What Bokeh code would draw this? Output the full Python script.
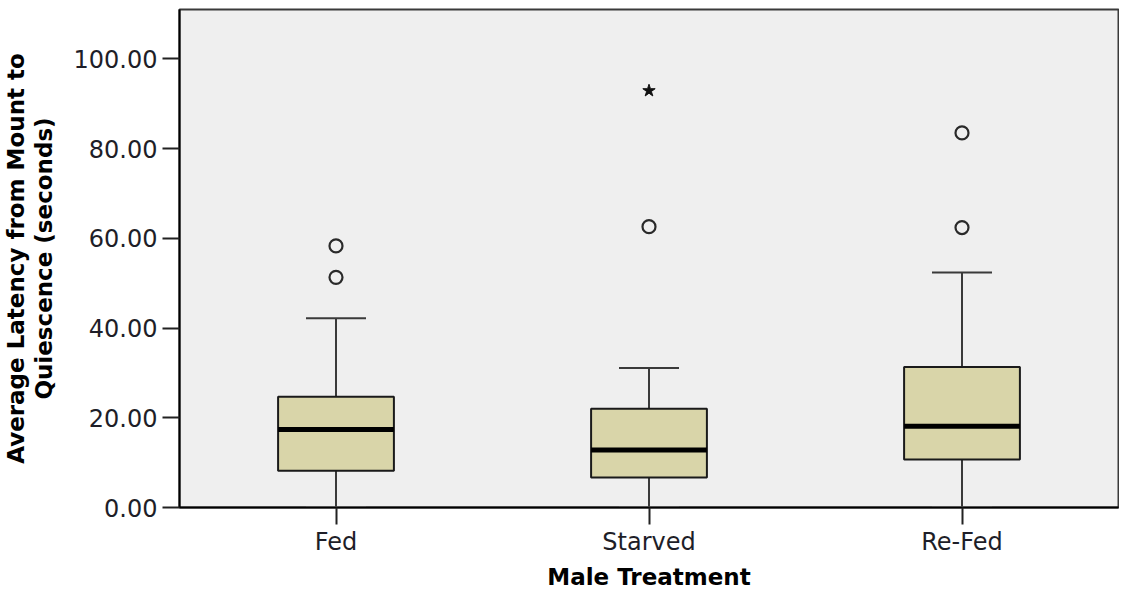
from bokeh.plotting import figure
from bokeh.models import (ColumnDataSource, FactorRange, Range1d, FixedTicker,
                          NumeralTickFormatter, Whisker, TeeHead)
from bokeh.embed import file_html
from bokeh.resources import INLINE

# ---- data ----
categories = ["Fed", "Starved", "Re-Fed"]
q1 = [8.2, 6.7, 10.7]
medians = [17.4, 12.8, 18.1]
q3 = [24.7, 22.0, 31.3]
lower_whisker = [0.0, 0.0, 0.0]
upper_whisker = [42.2, 31.1, 52.4]
outliers = {"Fed": [58.3, 51.3], "Starved": [62.6], "Re-Fed": [83.5, 62.4]}
extremes = {"Fed": [], "Starved": [92.9], "Re-Fed": []}
y_ticks = [0, 20, 40, 60, 80, 100]

FONT = "DejaVu Sans"
BOX_FILL = "#d9d5a9"
BG = "#efefef"

p = figure(width=1119, height=592, output_backend="svg", toolbar_location=None,
           x_range=FactorRange(*categories, range_padding=0.0),
           y_range=Range1d(0, 111),
           min_border_left=178, min_border_right=1, min_border_top=9,
           min_border_bottom=70)

p.background_fill_color = BG
p.border_fill_color = "white"
p.outline_line_color = "#3a3a3a"
p.outline_line_width = 2
p.xgrid.visible = False
p.ygrid.visible = False

src = ColumnDataSource(dict(cat=categories, q1=q1, med=medians, q3=q3,
                            lo=lower_whisker, hi=upper_whisker))

# whiskers
up = Whisker(source=src, base="cat", lower="q3", upper="hi", dimension="height",
             line_color="#3a3a3a", line_width=2,
             upper_head=TeeHead(size=60, line_color="#3a3a3a", line_width=2),
             lower_head=None, level="underlay")
lo = Whisker(source=src, base="cat", lower="lo", upper="q1", dimension="height",
             line_color="#3a3a3a", line_width=2,
             upper_head=None,
             lower_head=TeeHead(size=60, line_color="#bdbdbd", line_width=2),
             level="underlay")
p.add_layout(up)
p.add_layout(lo)

# boxes
p.vbar(x="cat", bottom="q1", top="q3", width=0.37, source=src,
       fill_color=BOX_FILL, line_color="#1a1a1a", line_width=2)
# medians
p.rect(x="cat", y="med", width=0.37, height=5, height_units="screen",
       source=src, fill_color="black", line_color=None)

# outliers
ox, oy = [], []
for c in categories:
    for v in outliers[c]:
        ox.append(c)
        oy.append(v)
p.scatter(ox, oy, marker="circle", size=13, fill_color=None,
          line_color="#2a2a2a", line_width=2.2)

ex, ey = [], []
for c in categories:
    for v in extremes[c]:
        ex.append(c)
        ey.append(v)
p.scatter(ex, ey, marker="star", size=13, fill_color="#111111",
          line_color="#111111", line_width=1)

# axes
p.yaxis.ticker = FixedTicker(ticks=y_ticks)
p.yaxis.formatter = NumeralTickFormatter(format="0.00")
p.yaxis.minor_tick_line_color = None
for ax in (p.xaxis, p.yaxis):
    ax.axis_line_color = "black"
    ax.axis_line_width = 2
    ax.major_tick_line_color = "#222222"
    ax.major_tick_line_width = 2
    ax.major_tick_in = 0
    ax.major_tick_out = 17
    ax.major_label_text_font = FONT
    ax.major_label_text_font_size = "24px"
    ax.major_label_text_color = "#1e1e28"
    ax.major_label_standoff = 5
    ax.axis_label_text_font = FONT
    ax.axis_label_text_font_style = "bold"
    ax.axis_label_text_font_size = "23px"
    ax.axis_label_text_color = "black"

p.xaxis.axis_label = "Male Treatment"
p.xaxis.axis_label_standoff = 5
p.xaxis.major_label_standoff = 3
p.yaxis.axis_label = "Average Latency from Mount to\nQuiescence (seconds)"
p.yaxis.axis_label_standoff = 14
p.yaxis.axis_label_text_line_height = 1.05

open("out.html", "w").write(file_html(p, INLINE))
